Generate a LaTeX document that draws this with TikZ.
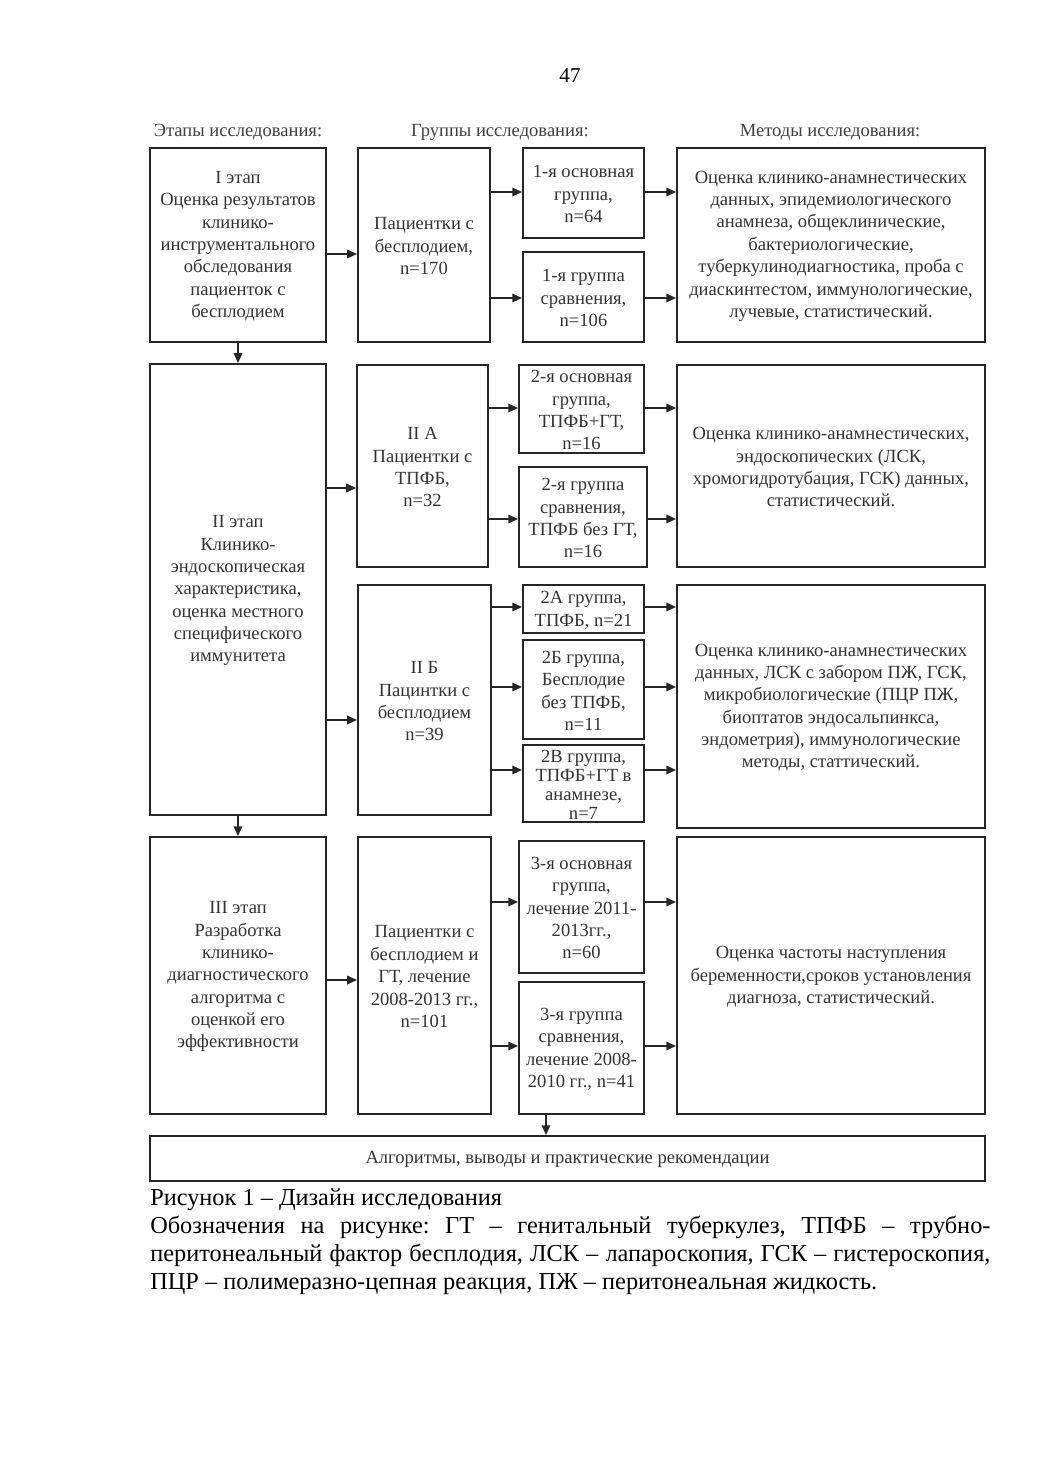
\documentclass[tikz,border=0pt]{standalone}
\usepackage{fontspec}
\setmainfont{Liberation Serif}
\usetikzlibrary{arrows.meta,fit}
\newcommand\bx[7][]{%
  \node[box, fit={(#3,#4) (#5,#6)}] (#2) {};
  \node[btext,#1] (#2t) at ([yshift=-0.03cm]#2.center) {#7};}
\begin{document}
\frenchspacing
\begin{tikzpicture}[x=0.025cm,y=-0.025cm,
  box/.style={draw=black!85, line width=1.3pt, inner sep=0pt},
  btext/.style={inner sep=0pt, align=center,
    font=\fontsize{13.2}{15.9}\selectfont, text=black!80},
  arr/.style={draw=black!85, line width=1.3pt, -{Triangle[length=7pt,width=6pt]}},
  hdr/.style={anchor=base, font=\fontsize{13.2}{15}\selectfont, text=black!75}]
\fill[white] (0,0) rectangle (1040,1471);
\useasboundingbox (0,0) rectangle (1040,1471);

\node[font=\fontsize{15}{18}\selectfont] (pg) at (570,76) {47};
\node[hdr] (h1) at (238,137) {Этапы исследования:};
\node[hdr] (h2) at (500,137) {Группы исследования:};
\node[hdr] (h3) at (830,137) {Методы исследования:};

% Stage I
\bx{s1}{150}{148}{326}{342}{I этап\\Оценка результатов\\клинико-\\инструментального\\обследования\\пациенток с\\бесплодием}
\bx{g1}{358}{148}{490}{342}{Пациентки с\\бесплодием,\\n=170}
\bx{a1}{523}{148}{644}{238}{1-я основная\\группа,\\n=64}
\bx{b1}{523}{252}{644}{342}{1-я группа\\сравнения,\\n=106}
\bx{m1}{677}{148}{985}{342}{Оценка клинико-анамнестических\\данных, эпидемиологического\\анамнеза, общеклинические,\\бактериологические,\\туберкулинодиагностика, проба с\\диаскинтестом, иммунологические,\\лучевые, статистический.}

% Stage II
\bx{s2}{150}{364}{326}{815}{II этап\\Клинико-\\эндоскопическая\\характеристика,\\оценка местного\\специфического\\иммунитета}
\bx{g2a}{357}{365}{488}{567}{II А\\Пациентки с\\ТПФБ,\\n=32}
\bx{a2}{519}{365}{644}{453}{2-я основная\\группа,\\ТПФБ+ГТ,\\n=16}
\bx{b2}{519}{467}{647}{567}{2-я группа\\сравнения,\\ТПФБ без ГТ,\\n=16}
\bx{m2}{677}{365}{985}{567}{Оценка клинико-анамнестических,\\эндоскопических (ЛСК,\\хромогидротубация, ГСК) данных,\\статистический.}
\bx{g2b}{358}{585}{491}{815}{II Б\\Пацинтки с\\бесплодием\\n=39}
\bx{c1}{523}{585}{644}{633}{2А группа,\\ТПФБ, n=21}
\bx{c2}{523}{640}{644}{739}{2Б группа,\\Бесплодие\\без ТПФБ,\\n=11}
\bx[font=\fontsize{13.2}{13.6}\selectfont]{c3}{523}{745}{644}{822}{2В группа,\\ТПФБ+ГТ в\\анамнезе,\\n=7}
\bx{m3}{677}{585}{985}{828}{Оценка клинико-анамнестических\\данных, ЛСК с забором ПЖ, ГСК,\\микробиологические (ПЦР ПЖ,\\биоптатов эндосальпинкса,\\эндометрия), иммунологические\\методы, статтический.}

% Stage III
\bx{s3}{150}{837}{326}{1114}{III этап\\Разработка\\клинико-\\диагностического\\алгоритма с\\оценкой его\\эффективности}
\bx{g3}{358}{837}{491}{1114}{Пациентки с\\бесплодием и\\ГТ, лечение\\2008-2013 гг.,\\n=101}
\bx{a3}{519}{841}{644}{973}{3-я основная\\группа,\\лечение 2011-\\2013гг.,\\n=60}
\bx{b3}{519}{982}{644}{1114}{3-я группа\\сравнения,\\лечение 2008-\\2010 гг., n=41}
\bx{m4}{677}{837}{985}{1114}{Оценка частоты наступления\\беременности,сроков установления\\диагноза, статистический.}

\bx{fin}{150}{1136}{985}{1181}{Алгоритмы, выводы и практические рекомендации}

% arrows stage I
\draw[arr] (s1.east |- 0,254) -- (g1.west |- 0,254);
\draw[arr] (g1.east |- 0,192) -- (a1.west |- 0,192);
\draw[arr] (g1.east |- 0,298) -- (b1.west |- 0,298);
\draw[arr] (a1.east |- 0,192) -- (m1.west |- 0,192);
\draw[arr] (b1.east |- 0,298) -- (m1.west |- 0,298);
\draw[arr] (s1.south -| 238,0) -- (s2.north -| 238,0);
% stage II
\draw[arr] (s2.east |- 0,488) -- (g2a.west |- 0,488);
\draw[arr] (s2.east |- 0,720) -- (g2b.west |- 0,720);
\draw[arr] (g2a.east |- 0,408) -- (a2.west |- 0,408);
\draw[arr] (g2a.east |- 0,519) -- (b2.west |- 0,519);
\draw[arr] (a2.east |- 0,408) -- (m2.west |- 0,408);
\draw[arr] (b2.east |- 0,519) -- (m2.west |- 0,519);
\draw[arr] (g2b.east |- 0,607) -- (c1.west |- 0,607);
\draw[arr] (g2b.east |- 0,687) -- (c2.west |- 0,687);
\draw[arr] (g2b.east |- 0,770) -- (c3.west |- 0,770);
\draw[arr] (c1.east |- 0,607) -- (m3.west |- 0,607);
\draw[arr] (c2.east |- 0,687) -- (m3.west |- 0,687);
\draw[arr] (c3.east |- 0,770) -- (m3.west |- 0,770);
\draw[arr] (s2.south -| 238,0) -- (s3.north -| 238,0);
% stage III
\draw[arr] (s3.east |- 0,980) -- (g3.west |- 0,980);
\draw[arr] (g3.east |- 0,902) -- (a3.west |- 0,902);
\draw[arr] (g3.east |- 0,1046) -- (b3.west |- 0,1046);
\draw[arr] (a3.east |- 0,902) -- (m4.west |- 0,902);
\draw[arr] (b3.east |- 0,1046) -- (m4.west |- 0,1046);
\draw[arr] (b3.south -| 546,0) -- (fin.north -| 546,0);

% caption
\node[anchor=north west, text width=21cm, align=justify, inner sep=0pt,
  font=\fontsize{17.3}{19.9}\selectfont] (cap) at (150,1189)
  {Рисунок 1 – Дизайн исследования\par
  Обозначения на рисунке: ГТ – генитальный туберкулез, ТПФБ – трубно-\linebreak{}перитонеальный фактор бесплодия, ЛСК – лапароскопия, ГСК – гистероскопия,\linebreak ПЦР – полимеразно-цепная реакция, ПЖ – перитонеальная жидкость.\par};
\end{tikzpicture}
\end{document}
